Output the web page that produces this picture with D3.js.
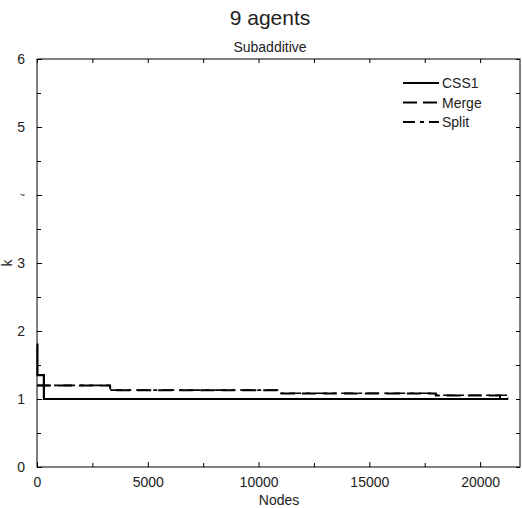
<!DOCTYPE html>
<html>
<head>
<meta charset="utf-8">
<script src="https://d3js.org/d3.v7.min.js"></script>
<style>
	body{ margin:0; background:#fff; }
	svg text{ font-family:"Liberation Sans", Arial, sans-serif; fill:#222; }
	.axis path, .axis line{ stroke:#000; stroke-width:1; }
	.series{ fill:none; stroke:#000; }
</style>
</head>
<body>
<div id="container"></div>
<script>

// data
var yTicks = [0, 1, 2, 3, 4, 5, 6];
var yTickLabels = ["0", "1", "2", "3", "~", "5", "6"];
var xTicks = [0, 5000, 10000, 15000, 20000];

var cssNodes = [0, 20, 310, 21270];
var cssK = [1.8, 1.35, 1.0, 1.0];

var mergeNodes = [0, 3300, 11000, 18000, 20900, 21270];
var mergeK = [1.2, 1.13, 1.08, 1.05, 1.02, 1.02];

var splitNodes = [0, 3300, 11000, 18000, 21270];
var splitK = [1.2, 1.13, 1.085, 1.055, 1.055];

var seriesNames = ["CSS1", "Merge", "Split"];

var W = 522, H = 508;
var m = {left:37, right:2, top:59, bottom:41};

var svg = d3.select("#container")
	.append("svg")
	.attr("width", W)
	.attr("height", H);

var x = d3.scaleLinear().domain([0, 21800]).range([m.left, W - m.right]);
var y = d3.scaleLinear().domain([0, 6]).range([H - m.bottom, m.top]);

var minorX = d3.range(2500, 21800, 5000);
var minorY = d3.range(0.5, 6, 1);

// box
svg.append("rect")
	.attr("x", m.left).attr("y", m.top)
	.attr("width", W - m.right - m.left).attr("height", H - m.bottom - m.top)
	.attr("fill", "none").attr("stroke", "#000");

function ticksOnly(g){ g.select(".domain").remove(); g.selectAll("text").remove(); }

// bottom
svg.append("g").attr("class", "axis")
	.attr("transform", "translate(0," + (H - m.bottom) + ")")
	.call(d3.axisBottom(x).tickValues(xTicks).tickSize(-5).tickPadding(10).tickFormat(d3.format("d")))
	.call(function(g){ g.select(".domain").remove(); g.selectAll("text").style("font-size", "14px"); });
svg.append("g").attr("class", "axis")
	.attr("transform", "translate(0," + (H - m.bottom) + ")")
	.call(d3.axisBottom(x).tickValues(minorX).tickSize(-4)).call(ticksOnly);
// top
svg.append("g").attr("class", "axis")
	.attr("transform", "translate(0," + m.top + ")")
	.call(d3.axisTop(x).tickValues(xTicks.concat(minorX)).tickSize(-4)).call(ticksOnly);

// left
svg.append("g").attr("class", "axis")
	.attr("transform", "translate(" + m.left + ",0)")
	.call(d3.axisLeft(y).tickValues(yTicks).tickSize(-5).tickPadding(12)
		.tickFormat(function(d, i){ return yTickLabels[i]; }))
	.call(function(g){
		g.select(".domain").remove();
		g.selectAll("text").style("font-size", function(d){ return d === 4 ? "9px" : "14px"; });
	});
svg.append("g").attr("class", "axis")
	.attr("transform", "translate(" + m.left + ",0)")
	.call(d3.axisLeft(y).tickValues(minorY).tickSize(-4)).call(ticksOnly);
// right
svg.append("g").attr("class", "axis")
	.attr("transform", "translate(" + (W - m.right) + ",0)")
	.call(d3.axisRight(y).tickValues(yTicks.concat(minorY)).tickSize(-4)).call(ticksOnly);

// series
var line = d3.line()
	.x(function(d){ return x(d[0]); })
	.y(function(d){ return y(d[1]); })
	.curve(d3.curveStepAfter);

function pairs(a, b){ return a.map(function(v, i){ return [v, b[i]]; }); }

svg.append("path").attr("class", "series")
	.attr("d", line(pairs(splitNodes, splitK)))
	.attr("stroke-width", 1.6)
	.attr("stroke-dasharray", "12,5,4,5");
svg.append("path").attr("class", "series")
	.attr("d", line(pairs(mergeNodes, mergeK)))
	.attr("stroke-width", 2)
	.attr("stroke-dasharray", "14,7");
svg.append("path").attr("class", "series")
	.attr("d", line(pairs(cssNodes, cssK)))
	.attr("stroke-width", 2.2);

// legend
var dashes = ["none", "14,6", "12,5,4,5"];
var widths = [2.2, 2.2, 1.8];
var lg = svg.append("g");
seriesNames.forEach(function(n, i){
	var yy = 83 + i * 19.5;
	lg.append("line")
		.attr("x1", 403).attr("x2", 439).attr("y1", yy).attr("y2", yy)
		.attr("stroke", "#000").attr("stroke-width", widths[i])
		.attr("stroke-dasharray", dashes[i]);
	lg.append("text")
		.attr("x", 442).attr("y", yy + 5)
		.style("font-size", "14px")
		.text(n);
});

// titles
svg.append("text")
	.attr("x", 270).attr("y", 25)
	.attr("text-anchor", "middle")
	.style("font-size", "21px")
	.text("9 agents");
svg.append("text")
	.attr("x", 270).attr("y", 52)
	.attr("text-anchor", "middle")
	.style("font-size", "14px")
	.text("Subadditive");
svg.append("text")
	.attr("x", 279).attr("y", 505)
	.attr("text-anchor", "middle")
	.style("font-size", "14px")
	.text("Nodes");
svg.append("text")
	.attr("transform", "translate(12,263) rotate(-90)")
	.attr("text-anchor", "middle")
	.style("font-size", "14px")
	.text("k");

</script>
</body>
</html>
